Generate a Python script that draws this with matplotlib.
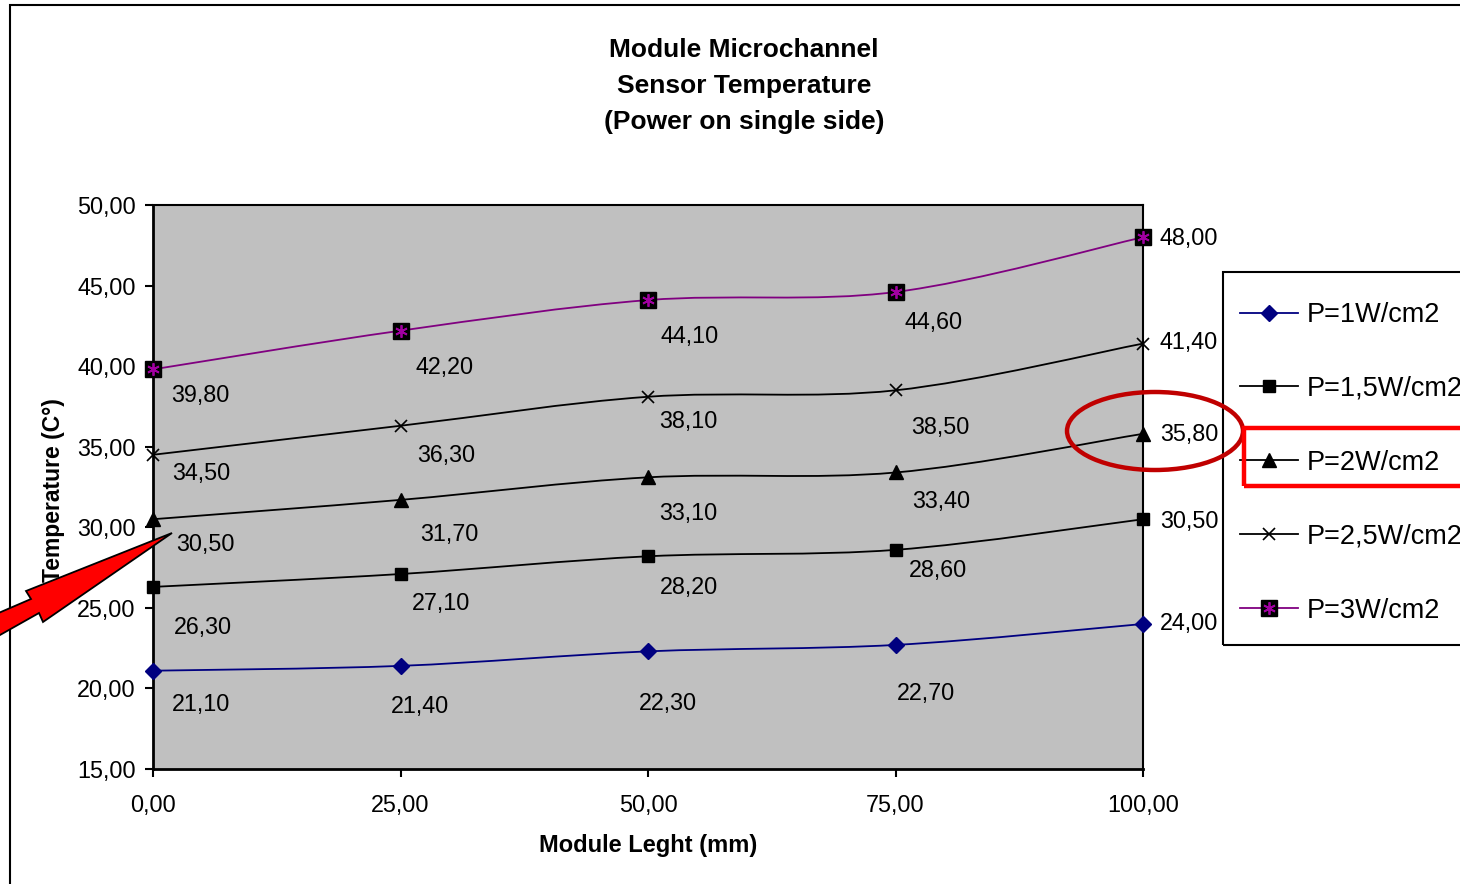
import matplotlib
matplotlib.use("Agg")
import matplotlib.pyplot as plt
from matplotlib.path import Path
from matplotlib.patches import PathPatch, Polygon, Ellipse, Rectangle
from matplotlib.lines import Line2D
from matplotlib.legend_handler import HandlerTuple
from matplotlib.ticker import FuncFormatter

plt.rcParams['font.family'] = ['Liberation Sans', 'DejaVu Sans']

# data
lengths = [0, 25, 50, 75, 100]
p1 = [21.10, 21.40, 22.30, 22.70, 24.00]
p15 = [26.30, 27.10, 28.20, 28.60, 30.50]
p2 = [30.50, 31.70, 33.10, 33.40, 35.80]
p25 = [34.50, 36.30, 38.10, 38.50, 41.40]
p3 = [39.80, 42.20, 44.10, 44.60, 48.00]
names = ['P=1W/cm2', 'P=1,5W/cm2', 'P=2W/cm2', 'P=2,5W/cm2', 'P=3W/cm2']

# label offsets in pixels (dx right, dy down)
label_offsets = [
    [(48, 34), (20, 41), (20, 52), (30, 49), (46, 0)],
    [(50, 41), (41, 29), (41, 31), (43, 21), (46, 2)],
    [(52, 25), (49, 35), (40, 36), (46, 29), (46, 1)],
    [(48, 19), (46, 30), (40, 25), (45, 37), (46, -1)],
    [(47, 26), (44, 37), (42, 36), (38, 30), (46, 1)],
]

W, H = 1460, 884
fig = plt.figure(figsize=(W / 100, H / 100), dpi=100)


def fx(px):
    return px / W


def fy(py):
    return 1 - py / H


def smooth(xs, ys):
    verts = [(xs[0], ys[0])]
    codes = [Path.MOVETO]
    n = len(xs)
    for i in range(n - 1):
        a = max(i - 1, 0)
        b = min(i + 2, n - 1)
        c1 = (xs[i] + (xs[i + 1] - xs[a]) / 6, ys[i] + (ys[i + 1] - ys[a]) / 6)
        c2 = (xs[i + 1] - (xs[b] - xs[i]) / 6, ys[i + 1] - (ys[b] - ys[i]) / 6)
        verts += [c1, c2, (xs[i + 1], ys[i + 1])]
        codes += [Path.CURVE4] * 3
    return Path(verts, codes)


ax = fig.add_axes([fx(153), fy(769), fx(1143) - fx(153), fy(205) - fy(769)])
ax.set_facecolor('#c0c0c0')
ax.set_xlim(0, 100)
ax.set_ylim(15, 50)
ax.set_xticks(lengths)
ax.set_yticks(range(15, 51, 5))
fmt = FuncFormatter(lambda v, p: ('%.2f' % v).replace('.', ','))
ax.xaxis.set_major_formatter(fmt)
ax.yaxis.set_major_formatter(fmt)
ax.tick_params(direction='out', length=6, width=1.5, labelsize=16.8, colors='black')
ax.tick_params(axis='x', pad=12)
ax.tick_params(axis='y', pad=6.5)
for s in ax.spines.values():
    s.set_linewidth(1.5)
ax.spines['left'].set_linewidth(2)
ax.spines['bottom'].set_linewidth(2)

series = [p1, p15, p2, p25, p3]
line_colors = ['#000080', 'black', 'black', 'black', '#800080']
handles = []
for k, ys in enumerate(series):
    col = line_colors[k]
    ax.add_patch(PathPatch(smooth(lengths, ys), fill=False, edgecolor=col, lw=1.3, zorder=3))
    if k == 0:
        st = dict(marker='D', markersize=8.5, markerfacecolor='#000080', markeredgecolor='#000080')
    elif k == 1:
        st = dict(marker='s', markersize=9, markerfacecolor='black', markeredgecolor='black')
    elif k == 2:
        st = dict(marker='^', markersize=10, markerfacecolor='black', markeredgecolor='black')
    elif k == 3:
        st = dict(marker='x', markersize=8, markeredgecolor='black', markeredgewidth=1.2)
    else:
        st = dict(marker='s', markersize=12, markerfacecolor='black', markeredgecolor='black')
    ax.plot(lengths, ys, linestyle='none', zorder=4, clip_on=False, **st)
    h = Line2D([], [], color=col, lw=1.3, **st)
    if k == 4:
        star = dict(marker=(6, 2, 0), markersize=9, markeredgecolor='#a000a0', markeredgewidth=1.3)
        ax.plot(lengths, ys, linestyle='none', zorder=5, clip_on=False, **star)
        h = (h, Line2D([], [], linestyle='none', **star))
    handles.append(h)
    for j, v in enumerate(ys):
        dx, dy = label_offsets[k][j]
        ax.annotate(('%.2f' % v).replace('.', ','), (lengths[j], v), xytext=(dx, -dy),
                    textcoords='offset pixels', ha='center', va='center',
                    fontsize=16.8, annotation_clip=False, zorder=6)

ax.set_xlabel('Module Leght (mm)', fontsize=17, fontweight='bold')
ax.xaxis.set_label_coords(fx(648), fy(834), transform=fig.transFigure)
ax.set_ylabel('Temperature (C°)', fontsize=16.5, fontweight='bold')
ax.yaxis.set_label_coords(fx(65), fy(490), transform=fig.transFigure)

fig.text(fx(744), fy(86), 'Module Microchannel\nSensor Temperature\n(Power on single side)',
         ha='center', va='center', fontsize=19, fontweight='bold', linespacing=1.62)

# legend frame drawn separately, entries placed inside
fig.patches.append(Rectangle((fx(1223), fy(645)), fx(260), fy(272) - fy(645), transform=fig.transFigure,
                             fill=False, edgecolor='black', lw=1.5, zorder=2))
leg = fig.legend(handles, names, loc='upper left', bbox_to_anchor=(fx(1240), fy(302)),
                 bbox_transform=fig.transFigure, borderaxespad=0, fontsize=19.5,
                 frameon=False, handlelength=2.15, handletextpad=0.3, labelspacing=1.77,
                 borderpad=0, handler_map={tuple: HandlerTuple(ndivide=1)})

# outer chart border
fig.patches.append(Rectangle((fx(10), fy(900)), fx(1500), fy(5) - fy(900), transform=fig.transFigure,
                             fill=False, edgecolor='black', lw=1.5, zorder=0))

# highlight ellipse and box
fig.patches.append(Ellipse((fx(1155), fy(431)), fx(176), 78 / H, transform=fig.transFigure,
                           fill=False, edgecolor='#c00000', lw=3.2, zorder=10))
fig.patches.append(Rectangle((fx(1244), fy(486)), fx(260), 58 / H, transform=fig.transFigure,
                             fill=False, edgecolor='#ff0000', lw=3.2, zorder=10))

# red arrow
arrow_px = [(172, 533), (26, 591), (31, 599), (-20, 621), (-20, 647), (0, 635),
            (39, 613), (43, 622)]
fig.patches.append(Polygon([(fx(a), fy(b)) for a, b in arrow_px], closed=True,
                           transform=fig.transFigure, facecolor='#ff0000', edgecolor='black',
                           lw=1.3, zorder=10))

fig.savefig('out.png', dpi=100)
